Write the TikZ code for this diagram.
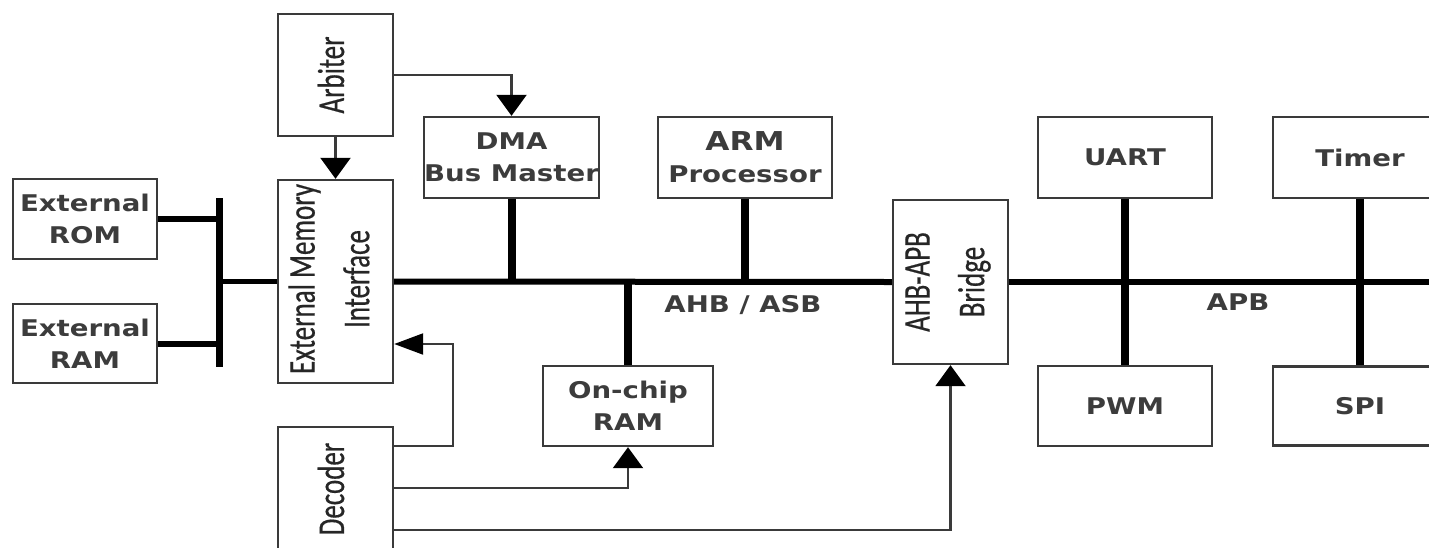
\documentclass[tikz,border=0pt]{standalone}
\usepackage{fontspec}
\usetikzlibrary{arrows.meta,calc}
\newfontfamily\hfont[FakeStretch=1.2]{DejaVu Sans}
\newfontfamily\rfont[FakeBold=0.6]{Carlito}
\definecolor{boxc}{HTML}{3A3A3A}
\definecolor{txtc}{HTML}{3C3C3C}
\begin{document}
\begin{tikzpicture}[x=1pt,y=-1pt,
  box/.style={draw=boxc,line width=2.4pt,inner sep=0pt,align=center,text=txtc,
    font=\hfont\bfseries\fontsize{23}{32}\selectfont},
  rtext/.style={rotate=90,inner sep=0pt,align=center,text=black!85,
    font=\rfont\fontsize{27}{39}\selectfont},
  lbl/.style={inner sep=0pt,text=txtc,font=\hfont\bfseries\fontsize{23}{32}\selectfont},
  bus/.style={line width=6pt,black},
  stub/.style={line width=8pt,black},
  conn/.style={draw=boxc,line width=2.2pt},
  tipv/.style={-{Triangle[width=30pt,length=21pt,color=black]}},
  tiph/.style={-{Triangle[width=21pt,length=29pt,color=black]}}]
\useasboundingbox (0,0) rectangle (1429,547);
\fill[white] (0,0) rectangle (1429,547);
\clip (0,0) rectangle (1429,547);

% boxes
\node[box,minimum width=144pt,minimum height=80pt] (rom) at (85,219) {External\\ROM};
\node[box,minimum width=144pt,minimum height=79pt] (ram) at (85,343.5) {External\\RAM};
\node[box,minimum width=115pt,minimum height=122pt] (arb) at (335.5,75) {};
\node[box,minimum width=115pt,minimum height=203pt] (emi) at (335.5,281.5) {};
\node[box,minimum width=115pt,minimum height=133pt] (dec) at (335.5,493.5) {};
\node[box,minimum width=173pt,minimum height=81pt] (dma) at (511.5,157.5) {DMA\\Bus Master};
\node[box,minimum width=174pt,minimum height=81pt] (arm) at (745,157.5) {{\fontsize{26}{30}\selectfont ARM}\\Processor};
\node[box,minimum width=170pt,minimum height=80pt] (ocr) at (628,406) {On-chip\\RAM};
\node[box,minimum width=115pt,minimum height=164pt] (brg) at (950.5,282) {};
\node[box,minimum width=174pt,minimum height=81pt] (uart) at (1125,157.5) {UART};
\node[box,minimum width=174pt,minimum height=80pt] (pwm) at (1125,406) {PWM};
\node[box,minimum width=174pt,minimum height=81pt] (timer) at (1360,157.5) {Timer};
\node[box,minimum width=174pt,minimum height=79pt] (spi) at (1360,406) {SPI};

% rotated texts
\node[rtext] (arbT) at (331,75) {\scalebox{1}[1.4]{Arbiter}};
\node[rtext] (emiT) at (331,279) {\scalebox{1}[1.4]{\begin{tabular}{@{}c@{}}External Memory\\Interface\end{tabular}}};
\node[rtext] (decT) at (331,489) {\scalebox{1}[1.4]{Decoder}};
\node[rtext] (brgT) at (946,282) {\scalebox{1}[1.4]{\begin{tabular}{@{}c@{}}AHB-APB\\Bridge\end{tabular}}};

% bus labels
\node[lbl] (ahb) at (743,305) {AHB / ASB};
\node[lbl] (apb) at (1238,302) {APB};

% external memory bus
\coordinate (barT) at (219,198);
\coordinate (barB) at (219,367);
\draw[line width=7pt] (barT) -- (barB);
\draw[line width=6pt] (rom.east) -- (rom.east -| barT);
\draw[line width=6pt] (ram.east) -- (ram.east -| barT);
\draw[line width=5pt] (emi.west) -- (emi.west -| barT);

% AHB bus
\draw[bus] (emi.east) -- (brg.west);
\draw[stub] (dma.south) -- (dma.south |- emi.east);
\draw[stub] (arm.south) -- (arm.south |- emi.east);
\draw[stub] (ocr.north) -- (ocr.north |- emi.east);

% APB bus
\coordinate (apbEnd) at (1429,282);
\draw[bus] (brg.east) -- (apbEnd);
\draw[stub] (uart.south) -- (pwm.north);
\draw[stub] (timer.south) -- (spi.north);

% control arrows
\draw[conn,tipv] (arb.south) -- (emi.north);
\draw[conn,tipv] (arb.east) -| (dma.north);
\coordinate (loopTop) at (453,344);
\draw[conn,tiph] ([yshift=-20pt]dec.north east) -| (loopTop) -- (emi.east |- loopTop);
\draw[conn,tipv] ([yshift=-62pt]dec.north east) -| (ocr.south);
\draw[conn,tipv] ([yshift=-104pt]dec.north east) -| (brg.south);
\end{tikzpicture}
\end{document}
